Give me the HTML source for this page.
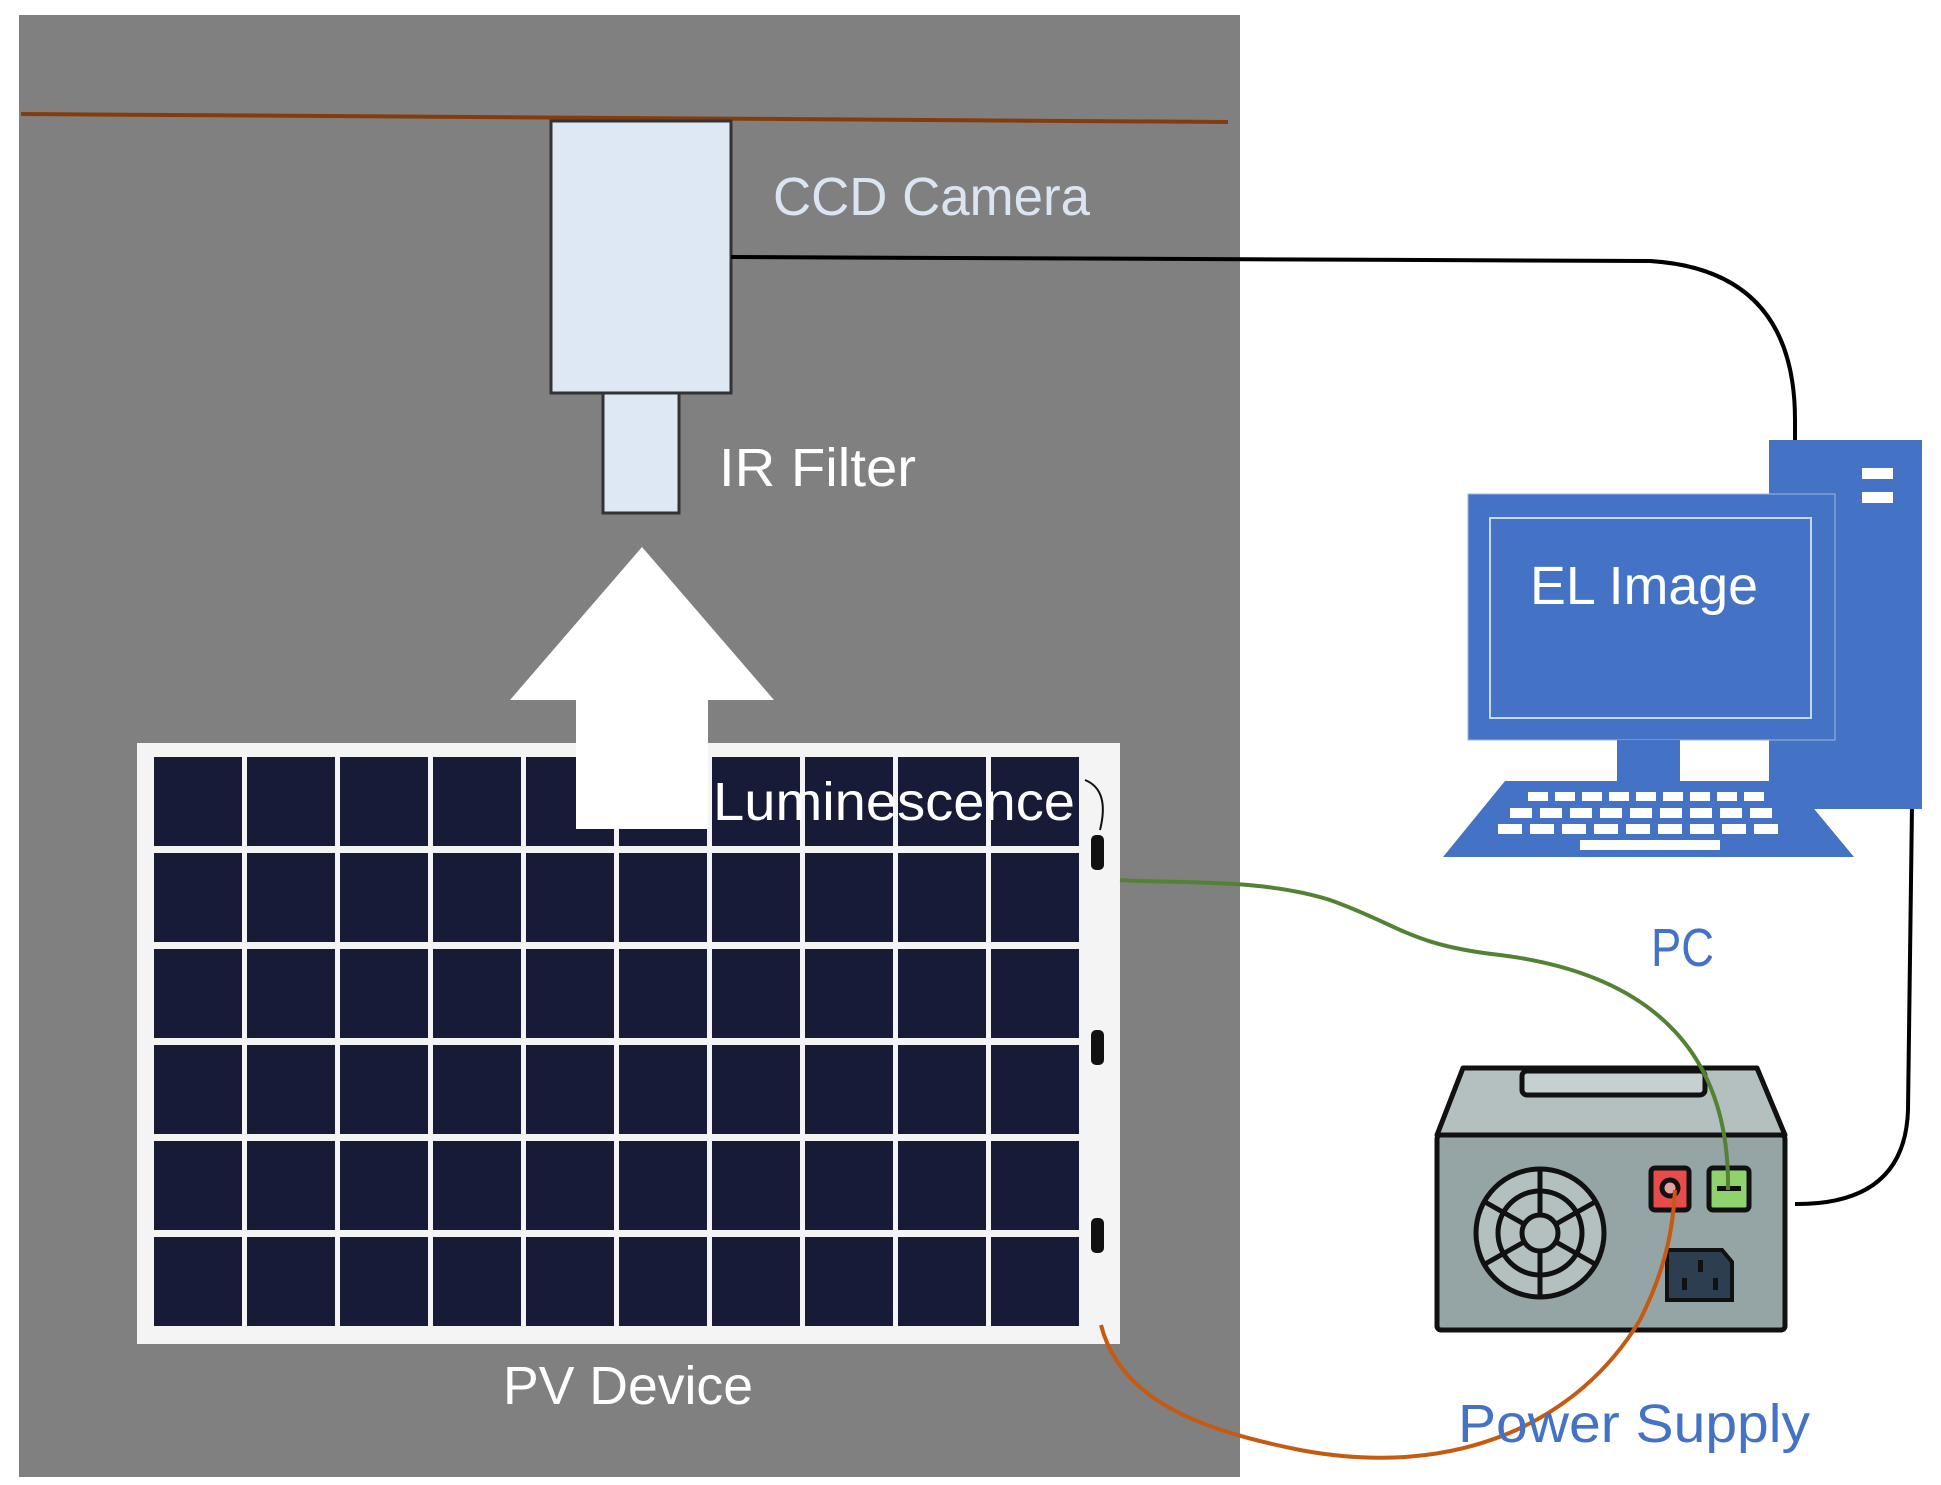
<!DOCTYPE html>
<html><head><meta charset="utf-8"><style>
html,body{margin:0;padding:0;background:#fff;}
svg{display:block;}
text{font-family:"Liberation Sans",sans-serif;}
</style></head><body>
<svg width="1941" height="1485" viewBox="0 0 1941 1485" xmlns="http://www.w3.org/2000/svg">
<rect x="0" y="0" width="1941" height="1485" fill="#fff"/>
<rect x="19" y="15" width="1221" height="1462" fill="#808080"/>
<line x1="21" y1="114" x2="1228" y2="122" stroke="#843c0c" stroke-width="4"/>
<rect x="551" y="121" width="180" height="272" fill="#dee8f4" stroke="#333" stroke-width="3"/>
<rect x="603" y="393" width="76" height="120" fill="#dee8f4" stroke="#333" stroke-width="3"/>
<text x="773" y="215" font-size="54" fill="#dbe5f1" textLength="317" lengthAdjust="spacingAndGlyphs">CCD Camera</text>
<text x="719" y="486" font-size="54" fill="#fff" textLength="197" lengthAdjust="spacingAndGlyphs">IR Filter</text>
<rect x="137" y="743" width="983" height="601" fill="#f4f4f4"/>
<g fill="#171b38">
<rect x="154" y="757" width="88" height="89"/><rect x="247" y="757" width="88" height="89"/><rect x="340" y="757" width="88" height="89"/><rect x="433" y="757" width="88" height="89"/><rect x="526" y="757" width="88" height="89"/><rect x="619" y="757" width="88" height="89"/><rect x="712" y="757" width="88" height="89"/><rect x="805" y="757" width="88" height="89"/><rect x="898" y="757" width="88" height="89"/><rect x="991" y="757" width="88" height="89"/>
<rect x="154" y="853" width="88" height="89"/><rect x="247" y="853" width="88" height="89"/><rect x="340" y="853" width="88" height="89"/><rect x="433" y="853" width="88" height="89"/><rect x="526" y="853" width="88" height="89"/><rect x="619" y="853" width="88" height="89"/><rect x="712" y="853" width="88" height="89"/><rect x="805" y="853" width="88" height="89"/><rect x="898" y="853" width="88" height="89"/><rect x="991" y="853" width="88" height="89"/>
<rect x="154" y="949" width="88" height="89"/><rect x="247" y="949" width="88" height="89"/><rect x="340" y="949" width="88" height="89"/><rect x="433" y="949" width="88" height="89"/><rect x="526" y="949" width="88" height="89"/><rect x="619" y="949" width="88" height="89"/><rect x="712" y="949" width="88" height="89"/><rect x="805" y="949" width="88" height="89"/><rect x="898" y="949" width="88" height="89"/><rect x="991" y="949" width="88" height="89"/>
<rect x="154" y="1045" width="88" height="89"/><rect x="247" y="1045" width="88" height="89"/><rect x="340" y="1045" width="88" height="89"/><rect x="433" y="1045" width="88" height="89"/><rect x="526" y="1045" width="88" height="89"/><rect x="619" y="1045" width="88" height="89"/><rect x="712" y="1045" width="88" height="89"/><rect x="805" y="1045" width="88" height="89"/><rect x="898" y="1045" width="88" height="89"/><rect x="991" y="1045" width="88" height="89"/>
<rect x="154" y="1141" width="88" height="89"/><rect x="247" y="1141" width="88" height="89"/><rect x="340" y="1141" width="88" height="89"/><rect x="433" y="1141" width="88" height="89"/><rect x="526" y="1141" width="88" height="89"/><rect x="619" y="1141" width="88" height="89"/><rect x="712" y="1141" width="88" height="89"/><rect x="805" y="1141" width="88" height="89"/><rect x="898" y="1141" width="88" height="89"/><rect x="991" y="1141" width="88" height="89"/>
<rect x="154" y="1237" width="88" height="89"/><rect x="247" y="1237" width="88" height="89"/><rect x="340" y="1237" width="88" height="89"/><rect x="433" y="1237" width="88" height="89"/><rect x="526" y="1237" width="88" height="89"/><rect x="619" y="1237" width="88" height="89"/><rect x="712" y="1237" width="88" height="89"/><rect x="805" y="1237" width="88" height="89"/><rect x="898" y="1237" width="88" height="89"/><rect x="991" y="1237" width="88" height="89"/>
</g>
<g fill="#111"><rect x="1091" y="835" width="13" height="35" rx="5"/><rect x="1091" y="1030" width="13" height="35" rx="5"/><rect x="1091" y="1218" width="13" height="35" rx="5"/></g>
<path d="M1085 780 Q1110 790 1100 830" stroke="#111" stroke-width="2" fill="none"/>
<polygon points="642,547 774,700 708,700 708,829 576,829 576,700 510,700" fill="#fff"/>
<text x="713" y="820" font-size="54" fill="#fff" textLength="362" lengthAdjust="spacingAndGlyphs">Luminescence</text>
<text x="503" y="1404" font-size="54" fill="#fff" textLength="250" lengthAdjust="spacingAndGlyphs">PV Device</text>
<path d="M731 257 L1650 261 Q1795 270 1795 420 L1795 445" stroke="#000" stroke-width="4" fill="none"/>
<path d="M1912 805 L1908 1110 Q1905 1205 1795 1204" stroke="#000" stroke-width="4" fill="none"/>
<rect x="1769" y="440" width="153" height="369" fill="#4472c4"/>
<rect x="1862" y="468" width="31" height="11" fill="#fff"/>
<rect x="1862" y="492" width="31" height="11" fill="#fff"/>
<rect x="1468" y="494" width="367" height="246" fill="#4472c4" stroke="#9fb5e0" stroke-width="1"/>
<rect x="1490" y="518" width="321" height="200" fill="none" stroke="#c8d6f0" stroke-width="2"/>
<rect x="1617" y="740" width="63" height="42" fill="#4472c4"/>
<polygon points="1505,781 1791,781 1854,857 1443,857" fill="#4472c4"/>
<g fill="#fff">
<rect x="1528" y="792" width="20" height="9"/><rect x="1555" y="792" width="20" height="9"/><rect x="1582" y="792" width="20" height="9"/><rect x="1609" y="792" width="20" height="9"/><rect x="1636" y="792" width="20" height="9"/><rect x="1663" y="792" width="20" height="9"/><rect x="1690" y="792" width="20" height="9"/><rect x="1717" y="792" width="20" height="9"/><rect x="1744" y="792" width="20" height="9"/>
<rect x="1510" y="808" width="22" height="10"/><rect x="1540" y="808" width="22" height="10"/><rect x="1570" y="808" width="22" height="10"/><rect x="1600" y="808" width="22" height="10"/><rect x="1630" y="808" width="22" height="10"/><rect x="1660" y="808" width="22" height="10"/><rect x="1690" y="808" width="22" height="10"/><rect x="1720" y="808" width="22" height="10"/><rect x="1750" y="808" width="22" height="10"/>
<rect x="1498" y="824" width="24" height="10"/><rect x="1530" y="824" width="24" height="10"/><rect x="1562" y="824" width="24" height="10"/><rect x="1594" y="824" width="24" height="10"/><rect x="1626" y="824" width="24" height="10"/><rect x="1658" y="824" width="24" height="10"/><rect x="1690" y="824" width="24" height="10"/><rect x="1722" y="824" width="24" height="10"/><rect x="1754" y="824" width="24" height="10"/>
<rect x="1580" y="840" width="140" height="10"/>
</g>
<text x="1530" y="604" font-size="54" fill="#fff" textLength="228" lengthAdjust="spacingAndGlyphs">EL Image</text>
<text x="1651" y="966" font-size="54" fill="#4472c4" textLength="63" lengthAdjust="spacingAndGlyphs">PC</text>
<polygon points="1463,1068 1757,1068 1785,1135 1437,1135" fill="#b4bfbf" stroke="#111" stroke-width="5" stroke-linejoin="round"/>
<rect x="1522" y="1071" width="183" height="24" rx="5" fill="#c6d0d0" stroke="#111" stroke-width="5"/>
<rect x="1437" y="1135" width="348" height="195" rx="4" fill="#95a5a6" stroke="#111" stroke-width="5"/>
<g stroke="#111" stroke-width="5" fill="none">
<circle cx="1540" cy="1233" r="64" fill="#b4bfbf"/>
<circle cx="1540" cy="1233" r="42"/>
<circle cx="1540" cy="1233" r="18"/>
<line x1="1540" y1="1169" x2="1540" y2="1215"/><line x1="1540" y1="1251" x2="1540" y2="1297"/>
<line x1="1485" y1="1202" x2="1524" y2="1224"/><line x1="1556" y1="1242" x2="1595" y2="1264"/>
<line x1="1595" y1="1202" x2="1556" y2="1224"/><line x1="1524" y1="1242" x2="1485" y2="1264"/>
</g>
<rect x="1651" y="1168" width="38" height="42" rx="4" fill="#e74c4c" stroke="#111" stroke-width="5"/>
<circle cx="1670" cy="1188" r="8" fill="#e7a0a0" stroke="#111" stroke-width="5"/>
<rect x="1709" y="1168" width="40" height="42" rx="4" fill="#8fd36f" stroke="#111" stroke-width="5"/>
<rect x="1717" y="1186" width="24" height="5" fill="#111"/>
<path d="M1667 1250 L1722 1250 L1732 1262 L1732 1300 L1667 1300 Z" fill="#2c3e50" stroke="#111" stroke-width="4"/>
<g fill="#111"><rect x="1698" y="1260" width="5" height="12"/><rect x="1682" y="1278" width="5" height="12"/><rect x="1713" y="1278" width="5" height="12"/></g>
<path d="M1120 880 C1180 884 1260 878 1330 900 C1400 925 1410 945 1500 955 C1660 975 1730 1060 1728 1190" stroke="#548235" stroke-width="4" fill="none"/>
<path d="M1101 1325 C1120 1400 1200 1430 1300 1450 C1460 1480 1580 1420 1640 1320 C1670 1260 1673 1220 1675 1190" stroke="#c55a11" stroke-width="4" fill="none"/>
<text x="1458" y="1442" font-size="54" fill="#4472c4" textLength="352" lengthAdjust="spacingAndGlyphs">Power Supply</text>
</svg>
</body></html>
